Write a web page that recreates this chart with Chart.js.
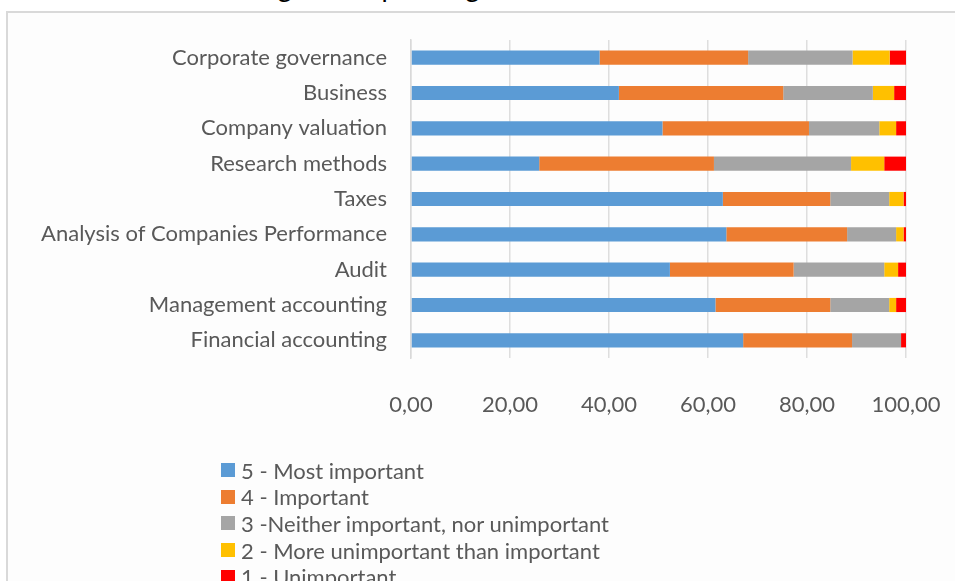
<!DOCTYPE html>
<html>
<head>
<meta charset="utf-8">
<script src="https://cdn.jsdelivr.net/npm/chart.js@4"></script>
<style>
  body { margin: 0; background: #fff; width: 955px; height: 581px; overflow: hidden; position: relative; font-family: "Lato", sans-serif; }
  #title { position: absolute; left: 24px; top: -30px; font-size: 27px; line-height: 34px; color: #000; white-space: nowrap; }
  #frame { position: absolute; left: 6px; top: 11px; width: 1000px; height: 700px; border: 2px solid #d9d9d9; background: #fdfdfd; }
  #c { position: absolute; left: 0; top: 0; }
  #legend { position: absolute; left: 221px; top: 457px; }
  .item { height: 26.6px; display: flex; align-items: center; font-size: 22px; color: #595959; white-space: nowrap; }
  .box { width: 14px; height: 14px; margin-right: 6px; flex: none; }
</style>
</head>
<body>
<div id="title">Chart 1. The knowledge of corporate governance</div>
<div id="frame"></div>
<canvas id="c" width="955" height="581"></canvas>
<div id="legend"></div>
<script>
const categories = [
  "Corporate governance",
  "Business",
  "Company valuation",
  "Research methods",
  "Taxes",
  "Analysis of Companies Performance",
  "Audit",
  "Management accounting",
  "Financial accounting",
];
const seriesNames = [
  "5 - Most important",
  "4 - Important",
  "3 -Neither important, nor unimportant",
  "2 - More unimportant than important",
  "1 - Unimportant",
];
const mostImportant = [38.1, 42.0, 50.8, 25.9, 63.0, 63.7, 52.3, 61.5, 67.1];
const important = [30.0, 33.2, 29.6, 35.3, 21.7, 24.4, 25.0, 23.2, 22.0];
const neither = [21.1, 18.1, 14.2, 27.7, 11.9, 9.9, 18.3, 11.9, 9.9];
const moreUnimportant = [7.5, 4.3, 3.4, 6.7, 2.9, 1.5, 2.8, 1.4, 0];
const unimportant = [3.4, 2.4, 2.0, 4.4, 0.5, 0.5, 1.6, 2.0, 1.0];
const xTicks = [0, 20, 40, 60, 80, 100];

const colors = ["#5B9BD5", "#ED7D31", "#A5A5A5", "#FFC000", "#FF0000"];
const allSeries = [mostImportant, important, neither, moreUnimportant, unimportant];

const datasets = allSeries.map((values, i) => ({
  label: seriesNames[i],
  data: values,
  backgroundColor: colors[i],
  borderWidth: 0,
  barPercentage: 0.4,
  categoryPercentage: 1,
}));

const labelFont = { family: "Lato", size: 22 };

new Chart(document.getElementById("c").getContext("2d"), {
  type: "bar",
  data: { labels: categories, datasets: datasets },
  options: {
    indexAxis: "y",
    responsive: false,
    animation: false,
    layout: { padding: { top: 40, right: 49, left: 0, bottom: 0 } },
    plugins: { legend: { display: false }, tooltip: { enabled: false } },
    scales: {
      x: {
        stacked: true,
        min: xTicks[0],
        max: xTicks[xTicks.length - 1],
        afterBuildTicks: (scale) => {
          scale.ticks = xTicks.map((v) => ({ value: v }));
        },
        afterFit: (scale) => {
          scale.height = 223;
          scale.paddingLeft = 0;
          scale.paddingRight = 0;
        },
        grid: { color: "#dedede", lineWidth: 1.5, drawTicks: false },
        border: { display: false },
        ticks: {
          padding: 34,
          color: "#595959",
          font: labelFont,
          callback: (v) => v.toFixed(2).replace(".", ","),
        },
      },
      y: {
        stacked: true,
        afterFit: (scale) => {
          scale.width = 411;
        },
        grid: { display: false, drawTicks: false },
        border: { display: true, color: "#d9d9d9", width: 1.5 },
        ticks: { padding: 24, color: "#595959", font: labelFont },
      },
    },
  },
});

// Legend stacked vertically, as in the original
const legend = document.getElementById("legend");
seriesNames.forEach((name, i) => {
  const row = document.createElement("div");
  row.className = "item";
  row.innerHTML = `<span class="box" style="background:${colors[i]}"></span>${name}`;
  legend.appendChild(row);
});
</script>
</body>
</html>
